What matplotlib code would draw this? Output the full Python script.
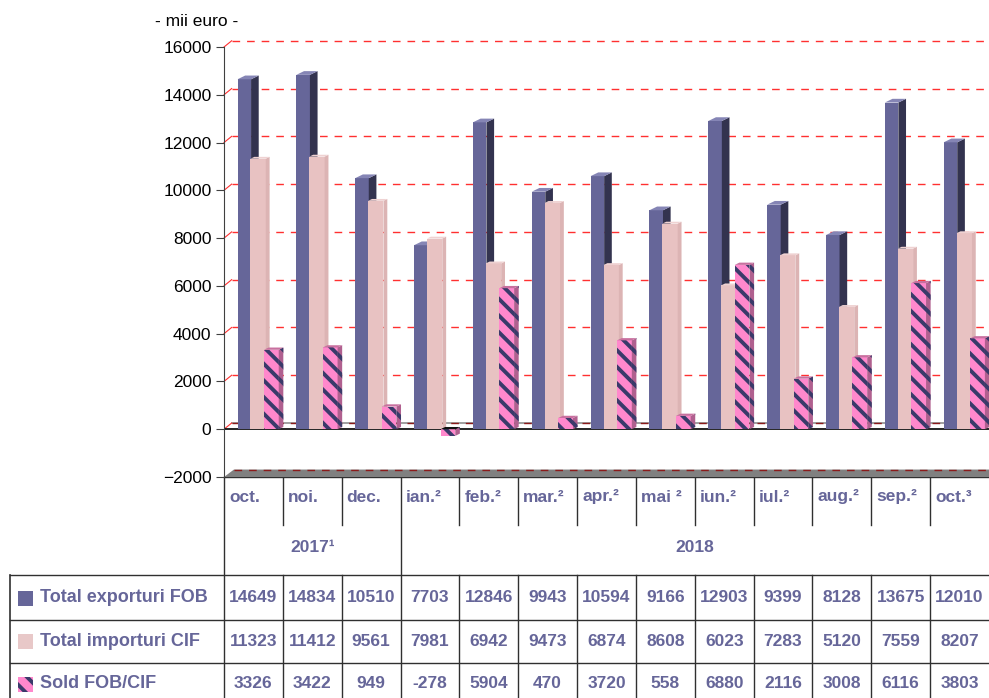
import matplotlib

matplotlib.use("Agg")
import matplotlib.pyplot as plt
from matplotlib.patches import Polygon, Rectangle

plt.rcParams["font.family"] = ["Liberation Sans", "DejaVu Sans"]
plt.rcParams["hatch.linewidth"] = 2.8

# date (mii euro)
months = ["oct.", "noi.", "dec.", "ian.²", "feb.²", "mar.²", "apr.²",
          "mai ²", "iun.²", "iul.²", "aug.²", "sep.²", "oct.³"]
years = ["2017¹", "2018"]
year_span = [(0, 3), (3, 13)]
exports = [14649, 14834, 10510, 7703, 12846, 9943, 10594, 9166, 12903, 9399, 8128, 13675, 12010]
imports = [11323, 11412, 9561, 7981, 6942, 9473, 6874, 8608, 6023, 7283, 5120, 7559, 8207]
balance = [3326, 3422, 949, -278, 5904, 470, 3720, 558, 6880, 2116, 3008, 6116, 3803]
series_names = ["Total exporturi FOB", "Total importuri CIF", "Sold FOB/CIF"]
yticks = list(range(-2000, 16001, 2000))

TXT = "#666699"
HATCH = "\\\\"
W, H = 989, 698
n = len(months)
COLW = (W - 224) / n  # largeur colonne en px

fig = plt.figure(figsize=(W / 100, H / 100), dpi=100)

# axe "tableau" en coordonnees px (x en unites de colonne)
tab = fig.add_axes([0, 0, 1, 1])
tab.set_xlim(-224 / COLW, n)
tab.set_ylim(H, 0)
tab.axis("off")
tab.patch.set_alpha(0)

# axe principal
ax = fig.add_axes([224 / W, (H - 477) / H, (W - 224) / W, (477 - 47) / H])
ax.patch.set_alpha(0)
ax.set_xlim(0, n)
ax.set_ylim(-2000, 16000)
for s in ["top", "right", "bottom"]:
    ax.spines[s].set_visible(False)
ax.spines["left"].set_color("#404040")
ax.set_xticks([])
ax.set_yticks(yticks)
ax.tick_params(axis="y", length=6, color="#404040", labelsize=12.5, pad=3)

DX = 0.13  # profondeur 3D (colonnes)
DY = 260   # profondeur 3D (valeurs)

# grille (mur du fond)
for t in yticks[2:]:
    ax.plot([DX, n], [t + DY, t + DY], color="#ff3030", lw=1,
            ls=(0, (5.5, 5)), zorder=1, clip_on=False)
    ax.plot([0, DX], [t, t + DY], color="#ff3030", lw=0.8, zorder=1, clip_on=False)
# plan zero
ax.plot([DX, n], [DY, DY], color="#909090", lw=1.2, zorder=1)
ax.plot([DX, n], [DY, DY], color="#8b1a1a", lw=1, ls=(0, (5.5, 5)), zorder=1)
ax.plot([0, DX], [0, DY], color="#ff3030", lw=0.8, zorder=1)
ax.axhline(0, color="black", lw=1.2, zorder=1)
# plancher
ax.add_patch(Polygon([(0, -2000), (DX * 1.3, -2000 + DY * 1.2), (n, -2000 + DY * 1.2), (n, -2000)],
                     closed=True, fc="#808080", ec="none", zorder=1, clip_on=False))
ax.plot([DX * 1.3, n], [-2000 + DY * 1.2] * 2, color="#8b1a1a", lw=1,
        ls=(0, (5.5, 5)), zorder=1, clip_on=False)


def bars3d(offset, values, width, face, side, top, z, depth=1.0, hatch=None, hcol=None):
    xs = [i + offset for i in range(n)]
    kw = dict(hatch=hatch, edgecolor=hcol, linewidth=0) if hatch else dict(linewidth=0)
    ax.bar(xs, values, width, align="edge", color=face, zorder=z, **kw)
    dx, dy = DX * depth, DY * 0.6 * depth
    for x, v in zip(xs, values):
        hi = max(v, 0)
        lo = min(v, 0)
        ax.add_patch(Polygon([(x + width, lo), (x + width + dx, lo + dy),
                              (x + width + dx, hi + dy), (x + width, hi)],
                             closed=True, fc=side, lw=0, zorder=z,
                             hatch=hatch, ec=hcol if hatch else None))
        tcol = top if v >= 0 else "#111111"
        ax.add_patch(Polygon([(x, hi), (x + dx, hi + dy),
                              (x + width + dx, hi + dy), (x + width, hi)],
                             closed=True, fc=tcol, lw=0, zorder=z))


bars3d(0.23, exports, 0.23, "#666699", "#33334f", "#8585b5", 3)
bars3d(0.45, imports, 0.26, "#e8c2c2", "#dcb4b4", "#efd2d2", 4, depth=0.5)
bars3d(0.68, balance, 0.25, "#ff88cc", "#b0608f", "#c8709f", 5, depth=0.6,
       hatch=HATCH, hcol="#3a3a6a")

fig.text(197 / W, 1 - 22 / H, "- mii euro -", ha="center", va="center", fontsize=12.5)

# tableau
LC = "#303030"
left = (10 - 224) / COLW
tab.plot([0, n], [477, 477], color=LC, lw=1)
for c in range(n):
    bottom = H if c in (0, 3) else 525
    tab.plot([c, c], [477, bottom], color=LC, lw=1)
    if c not in (0, 3):
        tab.plot([c, c], [575, H], color=LC, lw=1)
tab.plot([left, left], [575, H], color=LC, lw=1.2)
for yy in (575, 620, 663):
    tab.plot([left, n], [yy, yy], color=LC, lw=1)

for c, m in enumerate(months):
    tab.text(c + 5 / COLW, 497, m, ha="left", va="center", fontsize=12.5,
             fontweight="bold", color=TXT)
for yl, (a, b) in zip(years, year_span):
    tab.text((a + b) / 2, 547, yl, ha="center", va="center", fontsize=12.5,
             fontweight="bold", color=TXT)

rows_y = [598, 641, 684]
for yy, vals in zip(rows_y, [exports, imports, balance]):
    for c, v in enumerate(vals):
        tab.text(c + 0.5, yy, str(v), ha="center", va="center", fontsize=12.5,
                 fontweight="bold", color=TXT)

marker_specs = [
    dict(fc="#666699"),
    dict(fc="#e8c8c8"),
    dict(fc="#ff88cc", hatch=HATCH, ec="#3a3a6a", lw=0),
]
for yy, name, spec in zip(rows_y, series_names, marker_specs):
    tab.add_patch(Rectangle(((18 - 224) / COLW, yy - 7), 15 / COLW, 15, **spec))
    tab.text((40 - 224) / COLW, yy, name, ha="left", va="center", fontsize=13,
             fontweight="bold", color=TXT)

fig.savefig("out.png", dpi=100)
